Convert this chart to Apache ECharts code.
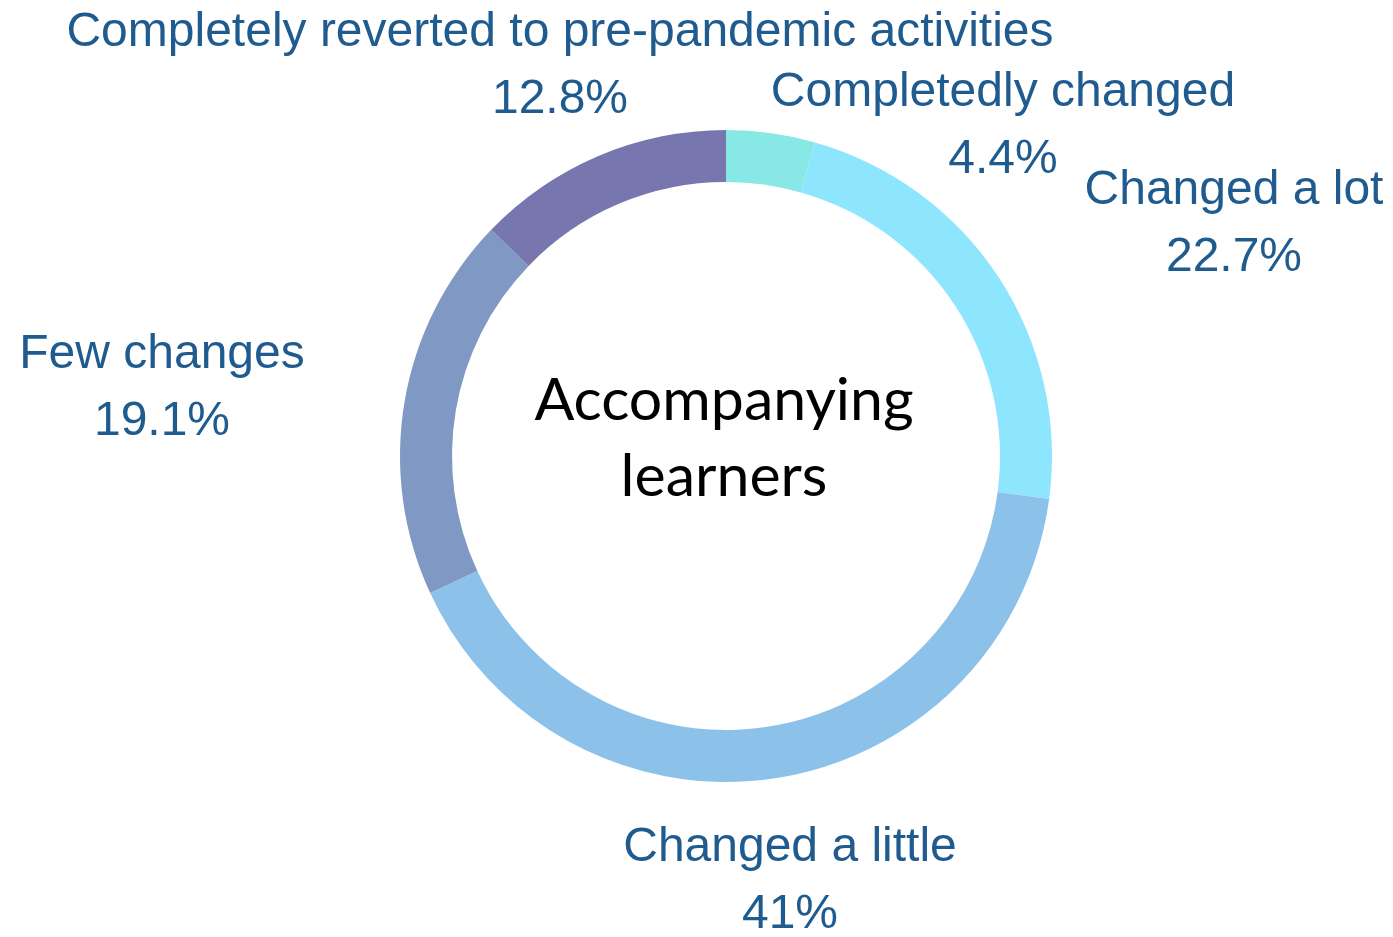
<!DOCTYPE html>
<html>
<head>
<meta charset="utf-8">
<script src="https://cdn.jsdelivr.net/npm/echarts@6/dist/echarts.min.js"></script>
<style>
  html, body { margin: 0; padding: 0; background: #fff; }
  #chart { width: 1393px; height: 937px; }
</style>
</head>
<body>
<div id="chart"></div>
<script>
// data, clockwise from 12 o'clock (label text kept as in the source, typo included)
const categories = [
  'Completedly changed',
  'Changed a lot',
  'Changed a little',
  'Few changes',
  'Completely reverted to pre-pandemic activities'
]
const shares = [4.4, 22.7, 41, 19.1, 12.8]
const centerTitle = 'Accompanying\nlearners'

const colors = ['#87e8e6', '#8ee5fe', '#8cc2ea', '#7f98c4', '#7876ae']
// where each label block sits (centre of the two lines), like the original layout
const labelSpots = [[1003, 126], [1234, 224], [790, 881], [162, 388], [560, 66]]

const chart = echarts.init(document.getElementById('chart'))

let option = {
  backgroundColor: '#ffffff',
  color: colors,
  graphic: [{
    type: 'text',
    x: 724,
    y: 439,
    style: {
      text: centerTitle,
      align: 'center',
      verticalAlign: 'middle',
      fontFamily: 'Lato',
      fontSize: 59,
      lineHeight: 76,
      fill: '#000000'
    }
  }],
  series: [{
    type: 'pie',
    center: [726, 456],
    radius: [274, 326],
    startAngle: 90,
    clockwise: true,
    silent: true,
    data: categories.map((name, i) => ({ name: name, value: shares[i] })),
    label: {
      show: true,
      position: 'outside',
      formatter: p => p.name + '\n' + p.value + '%',
      color: '#1f5b8e',
      fontFamily: 'Liberation Sans',
      fontSize: 48,
      lineHeight: 67,
      align: 'center',
      overflow: 'none',
      width: 1200
    },
    labelLine: { show: false },
    labelLayout (params) {
      const spot = labelSpots[params.dataIndex]
      return {
        x: spot[0],
        y: spot[1],
        align: 'center',
        verticalAlign: 'middle'
      }
    }
  }]
}

chart.setOption(option)
</script>
</body>
</html>
